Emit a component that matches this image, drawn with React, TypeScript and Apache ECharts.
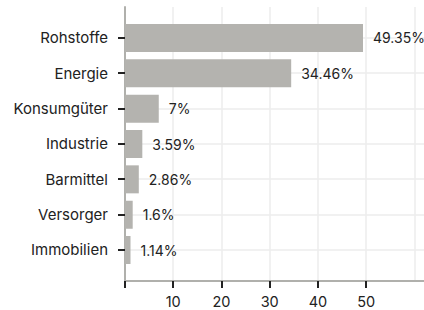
import React, { useEffect, useRef } from "react";
import * as echarts from "echarts";

const categories = ["Rohstoffe", "Energie", "Konsumgüter", "Industrie", "Barmittel", "Versorger", "Immobilien"];
const values = [49.35, 34.46, 7, 3.59, 2.86, 1.6, 1.14];
const xTickValues = [0, 10, 20, 30, 40, 50];
const xLabelValues = [10, 20, 30, 40, 50];
const xGridValues = [0, 10, 20, 30, 40, 50, 60];

export default function App() {
  const ref = useRef<HTMLDivElement>(null);
  useEffect(() => {
    const chart = echarts.init(ref.current!, null, { renderer: "svg" });
    const font = "Inter";
    const idx = categories.map((_, i) => i);
    const XMAX = 62;
    chart.setOption({
      animation: false,
      textStyle: { fontFamily: font },
      grid: [
        { left: 125, right: 0, top: 7, bottom: 29 },
        { left: 125, right: 0, top: 20.3, bottom: 42.3 },
      ],
      xAxis: [
        {
          type: "value",
          gridIndex: 0,
          min: 0,
          max: XMAX,
          axisLine: { show: true, onZero: false, lineStyle: { color: "#b0b0ac", width: 2 } },
          axisTick: { show: true, customValues: xTickValues, length: 7, lineStyle: { color: "#222", width: 2 } },
          axisLabel: { customValues: xLabelValues, color: "#222", fontFamily: font, fontSize: 14.5, margin: 13 },
          splitLine: { show: false },
        },
        {
          type: "value",
          gridIndex: 0,
          min: 0,
          max: XMAX,
          axisLine: { show: false, onZero: false },
          axisTick: { show: false, customValues: xGridValues },
          axisLabel: { show: false },
          splitLine: { show: true, lineStyle: { color: "#ececec", width: 1.5 } },
        },
        {
          type: "value",
          gridIndex: 1,
          min: 0,
          max: XMAX,
          show: false,
          splitLine: { show: false },
        },
      ],
      yAxis: [
        {
          type: "value",
          gridIndex: 0,
          inverse: true,
          min: -0.87,
          max: 6.88,
          axisLine: { show: true, onZero: false, lineStyle: { color: "#b0b0ac", width: 2 } },
          axisTick: { show: true, customValues: idx, length: 7, lineStyle: { color: "#222", width: 2 } },
          axisLabel: {
            customValues: idx,
            formatter: (v: number) => categories[Math.round(v)] ?? "",
            color: "#222",
            fontFamily: font,
            fontSize: 15,
            margin: 17,
          },
          splitLine: { show: true, lineStyle: { color: "#ececec", width: 1.5 } },
        },
        {
          type: "category",
          gridIndex: 1,
          inverse: true,
          data: categories,
          show: false,
        },
      ],
      series: [
        {
          type: "bar",
          xAxisIndex: 2,
          yAxisIndex: 1,
          data: values,
          barWidth: 28,
          itemStyle: { color: "#b4b3af" },
          label: {
            show: true,
            position: "right",
            distance: 10,
            color: "#222",
            fontFamily: font,
            fontSize: 14,
            formatter: (p: any) => `${p.value}%`,
          },
        },
      ],
    });
    return () => chart.dispose();
  }, []);
  return <div ref={ref} style={{ width: 424, height: 310, position: "absolute", left: 0, top: 0 }} />;
}
